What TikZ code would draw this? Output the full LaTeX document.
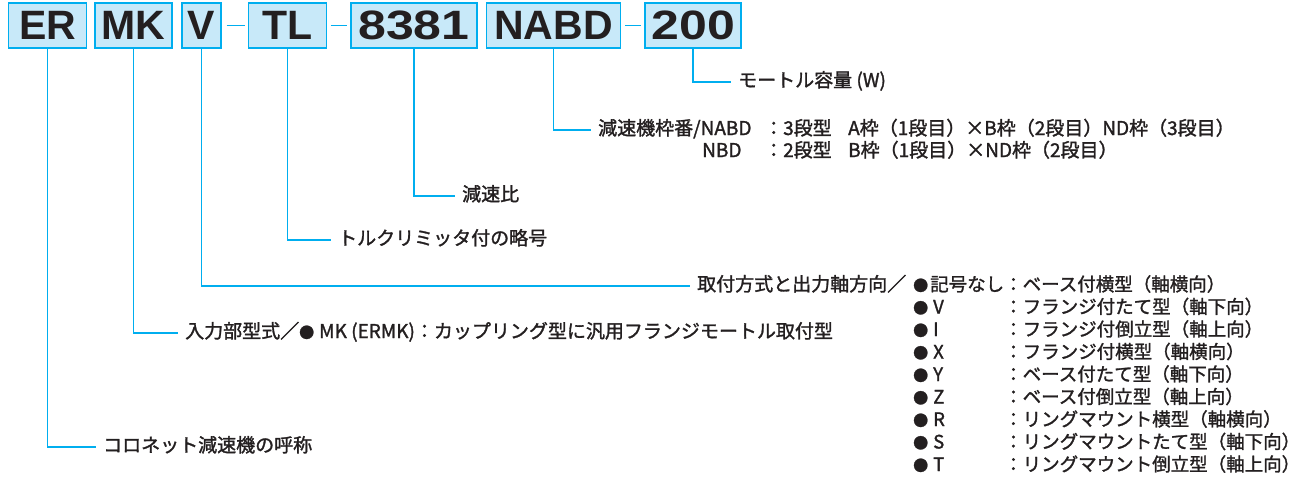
\documentclass[tikz,border=0pt]{standalone}
\usepackage{fontspec}
\setmainfont{Liberation Sans}
\newfontfamily\jpfont{Noto Sans CJK JP}[FakeBold=1.5]
\newfontfamily\widefont{Liberation Sans}[FakeStretch=1.22]
\usetikzlibrary{positioning, calc}
\definecolor{codecyan}{HTML}{00AEEF}
\definecolor{codefill}{HTML}{C8E9F9}
\definecolor{codeink}{HTML}{231F20}
\newcommand\dotmark{{\fontsize{15}{15}\selectfont ●}\kern5pt}

\begin{document}
\begin{tikzpicture}[
    x=1pt, y=-1pt,
    % === STYLES ===
    codebox/.style={
        rectangle,
        draw=codecyan,
        fill=codefill,
        line width=1.6pt,
        minimum height=45pt,
        minimum width=#1,
        inner sep=0pt,
        text=codeink,
        font=\fontsize{41}{41}\selectfont\bfseries
    },
    codebox/.default=80pt,
    widebox/.style={
        codebox=#1,
        font=\widefont\fontsize{41}{41}\selectfont\bfseries
    },
    lead/.style={
        draw=codecyan,
        line width=1.4pt,
        shorten >=7pt
    },
    joiner/.style={
        draw=codecyan,
        line width=1.4pt
    },
    lbl/.style={
        inner sep=0pt,
        anchor=west,
        text height=14pt,
        text depth=4pt,
        text=codeink,
        font=\jpfont\fontsize{19}{21}\selectfont
    },
    tbl/.style={
        lbl,
        font=\jpfont\fontsize{18.5}{21}\selectfont
    }
]
\useasboundingbox (0,0) rectangle (1304,482);

% === CODE BOXES ===
\node[codebox=78pt] (er) at (47.5,25.5) {ER};
\node[codebox=77pt, right=7pt of er] (mk) {MK};
\node[codebox=39pt, right=8pt of mk] (v) {V};
\node[codebox=78pt, right=26pt of v] (tl) {TL};
\node[widebox=126pt, right=23pt of tl] (ratio) {8381};
\node[codebox=134pt, right=8pt of ratio] (nabd) {NABD};
\node[widebox=96pt, right=23pt of nabd] (watt) {200};

% joining dashes
\draw[joiner, shorten <=5pt, shorten >=3pt] (v.east) -- (tl.west);
\draw[joiner, shorten <=3.5pt, shorten >=3.5pt] (tl.east) -- (ratio.west);
\draw[joiner, shorten <=3.5pt, shorten >=3.5pt] (nabd.east) -- (watt.west);

% === LABELS ===
\node[lbl] (wattlbl) at (738,82) {モートル容量 (W)};

\node[lbl] (nabdlbl) at (598,130) {減速機枠番/NABD};
\node[lbl] (nabdstage) at (764,130) {：3段型};
\node[lbl] (nabdframe) at (848,130) {A枠（1段目）×B枠（2段目）ND枠（3段目）};
\node[lbl] (nbdlbl) at (702,152) {NBD};
\node[lbl] (nbdstage) at (764,152) {：2段型};
\node[lbl] (nbdframe) at (848,152) {B枠（1段目）×ND枠（2段目）};

\node[lbl] (ratiolbl) at (462,196) {減速比};
\node[lbl] (tllbl) at (338,240) {トルクリミッタ付の略号};

\node[lbl] (vlbl) at (697,286) {取付方式と出力軸方向／};
\node[tbl] (vnone) at (913,286) {{\fontsize{15}{15}\selectfont ●}\kern2pt 記号なし：ベース付横型（軸横向）};
\foreach \code/\desc [count=\i] in {
    V/フランジ付たて型（軸下向）,
    I/フランジ付倒立型（軸上向）,
    X/フランジ付横型（軸横向）,
    Y/ベース付たて型（軸下向）,
    Z/ベース付倒立型（軸上向）,
    R/リングマウント横型（軸横向）,
    S/リングマウントたて型（軸下向）,
    T/リングマウント倒立型（軸上向）}{
    \node[tbl] (mount\i) at (913,286+22.5*\i) {\dotmark\code};
    \node[tbl] (mountd\i) at (1004,286+22.5*\i) {：\desc};
}

\node[lbl] (mklbl) at (185,333) {入力部型式／\dotmark MK (ERMK)：カップリング型に汎用フランジモートル取付型};
\node[lbl] (erlbl) at (103,447) {コロネット減速機の呼称};

% === CONNECTIONS ===
\draw[lead] (watt.south) |- (wattlbl.west);
\draw[lead] (nabd.south) |- (nabdlbl.west);
\draw[lead] (ratio.south) |- (ratiolbl.west);
\draw[lead] (tl.south) |- (tllbl.west);
\draw[lead] (v.south) |- (vlbl.west);
\draw[lead] (mk.south) |- (mklbl.west);
\draw[lead] (er.south) |- (erlbl.west);

\end{tikzpicture}
\end{document}
